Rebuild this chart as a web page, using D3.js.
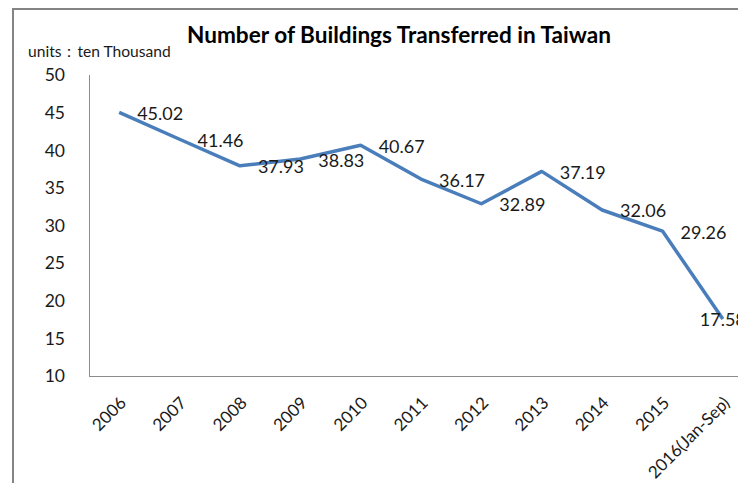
<!DOCTYPE html>
<html>
<head>
    <meta charset="utf-8" />
    <title>Number of Buildings Transferred in Taiwan</title>
    <style>
        body { margin: 0; background: #fff; }
        #line_chart { width: 738px; height: 483px; }
        text { font-family: Lato, "Noto Sans", sans-serif; fill: #1a1a1a; }
    </style>
</head>
<body>
    <div id="line_chart"></div>
    <script src="https://cdnjs.cloudflare.com/ajax/libs/d3/7.8.5/d3.min.js"></script>
    <script>
        var years = ['2006', '2007', '2008', '2009', '2010', '2011', '2012', '2013', '2014', '2015', '2016(Jan-Sep)']
        var transferred = [45.02, 41.46, 37.93, 38.83, 40.67, 36.17, 32.89, 37.19, 32.06, 29.26, 17.58]
        var yTicks = [10, 15, 20, 25, 30, 35, 40, 45, 50]

        var width = 738, height = 483
        // plot area runs past the right edge, like the cropped original
        var plot = { left: 89, top: 75, right: 753, bottom: 376 }

        var svg = d3.select("#line_chart")
            .append("svg")
            .attr("width", width)
            .attr("height", height)

        // outer frame (only top and left are visible)
        svg.append("path")
            .attr("d", "M13," + height + "V9H" + width)
            .attr("fill", "none")
            .attr("stroke", "#848484")
            .attr("stroke-width", 2)

        var xScale = d3.scaleBand()
            .domain(years)
            .range([plot.left, plot.right])

        var yScale = d3.scaleLinear()
            .domain([10, 50])
            .range([plot.bottom, plot.top])

        // axes lines
        svg.append("line")
            .attr("x1", plot.left + 0.5).attr("x2", plot.left + 0.5)
            .attr("y1", plot.top).attr("y2", plot.bottom)
            .attr("stroke", "#8c8c8c")
        svg.append("line")
            .attr("x1", plot.left).attr("x2", width)
            .attr("y1", plot.bottom + 0.5).attr("y2", plot.bottom + 0.5)
            .attr("stroke", "#8c8c8c")

        // y tick labels
        svg.append("g").selectAll("text")
            .data(yTicks)
            .enter().append("text")
            .attr("x", 65)
            .attr("y", function (d) { return yScale(d); })
            .attr("dy", "0.36em")
            .attr("text-anchor", "end")
            .attr("font-size", 17.5)
            .text(function (d) { return d; })

        // x tick labels, rotated
        svg.append("g").selectAll("text")
            .data(years)
            .enter().append("text")
            .attr("text-anchor", "end")
            .attr("font-size", 17)
            .attr("transform", function (d) {
                var x = xScale(d) + xScale.bandwidth() / 2 + 8
                return "translate(" + x + "," + (plot.bottom + 28) + ") rotate(-45)"
            })
            .text(function (d) { return d; })

        var line = d3.line()
            .x(function (d, i) { return xScale(years[i]) + xScale.bandwidth() / 2 })
            .y(function (d) { return yScale(d) })

        svg.append("path")
            .datum(transferred)
            .attr("d", line)
            .attr("fill", "none")
            .attr("stroke", "#4a7ebb")
            .attr("stroke-width", 3.5)
            .attr("stroke-linejoin", "round")

        // data labels to the right of each point, last one centred
        var last = transferred.length - 1
        svg.append("g").selectAll("text")
            .data(transferred)
            .enter().append("text")
            .attr("x", function (d, i) {
                var cx = xScale(years[i]) + xScale.bandwidth() / 2
                return i === last ? cx : cx + 18
            })
            .attr("y", function (d) { return yScale(d) + 1 })
            .attr("dy", "0.36em")
            .attr("text-anchor", function (d, i) { return i === last ? "middle" : "start" })
            .attr("font-size", 18)
            .text(function (d) { return d.toFixed(2) })

        svg.append("text")
            .attr("x", 399)
            .attr("y", 43)
            .attr("text-anchor", "middle")
            .attr("font-size", 22.6)
            .attr("font-weight", "bold")
            .style("fill", "#000")
            .text("Number of Buildings Transferred in Taiwan")

        svg.append("text")
            .attr("x", 28)
            .attr("y", 57)
            .attr("font-size", 15.6)
            .text("units：ten Thousand")
    </script>
</body>
</html>
